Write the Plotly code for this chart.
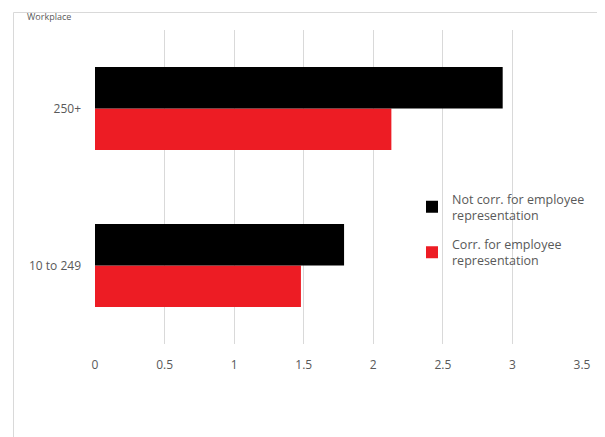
import plotly.graph_objects as go

categories = ["10 to 249", "250+"]
not_corr = [1.79, 2.93]
corr = [1.48, 2.13]
series_names = ["Not corr. for employee<br>representation", "Corr. for employee<br>representation"]
x_ticks = [0, 0.5, 1, 1.5, 2, 2.5, 3, 3.5]
x_tick_labels = ["0", "0.5", "1", "1.5", "2", "2.5", "3", "3.5"]

OFF = 8  # page body margin offset
W, H = 605 - OFF, 437 - OFF
L, R, T, B = 95 - OFF, 23, 30 - OFF, 93
pw, ph = W - L - R, H - T - B

def px_x(p):
    return (p - OFF - L) / pw

def px_y(p):
    return (H - B - (p - OFF)) / ph

fig = go.Figure()
fig.add_trace(go.Bar(y=categories, x=corr, orientation="h", name=series_names[1],
                     legendgroup="b", legendrank=2,
                     marker=dict(color="#ed1c24", line=dict(width=0))))
fig.add_trace(go.Bar(y=categories, x=not_corr, orientation="h", name=series_names[0],
                     legendgroup="a", legendrank=1,
                     marker=dict(color="#000000", line=dict(width=0))))

font = dict(family="Open Sans, Liberation Sans, sans-serif", size=12, color="#595959")

fig.update_layout(
    width=W, height=H,
    margin=dict(l=L, r=R, t=T, b=B, autoexpand=False),
    paper_bgcolor="white", plot_bgcolor="white",
    barmode="group", bargap=0.47, bargroupgap=0,
    font=font,
    showlegend=True,
    legend=dict(x=px_x(412), y=px_y(184), xanchor="left", yanchor="top",
                traceorder="grouped", font=dict(size=12.5, color="#595959"),
                bgcolor="rgba(0,0,0,0)", itemwidth=30, tracegroupgap=10),
    xaxis=dict(range=[0, 3.5], tickvals=x_ticks, ticktext=x_tick_labels,
               showgrid=True, gridcolor="#d9d9d9", gridwidth=1,
               zeroline=False, showline=False, ticks="", ticklabelstandoff=12,
               tickfont=font, fixedrange=True),
    yaxis=dict(showgrid=False, zeroline=False, showline=False, ticks="",
               ticklabelstandoff=13, tickfont=font, fixedrange=True),
    shapes=[dict(type="rect", xref="paper", yref="paper",
                 x0=px_x(13.5), x1=px_x(600.5), y0=px_y(445), y1=px_y(12.5),
                 line=dict(color="#d9d9d9", width=1), fillcolor="rgba(0,0,0,0)", layer="below")],
    annotations=[dict(text="Workplace", xref="paper", yref="paper", x=px_x(25), y=px_y(OFF),
                      xanchor="left", yanchor="top", showarrow=False,
                      font=dict(family="Open Sans, sans-serif", size=9, color="#595959"))],
)

fig.write_html("out.html")
